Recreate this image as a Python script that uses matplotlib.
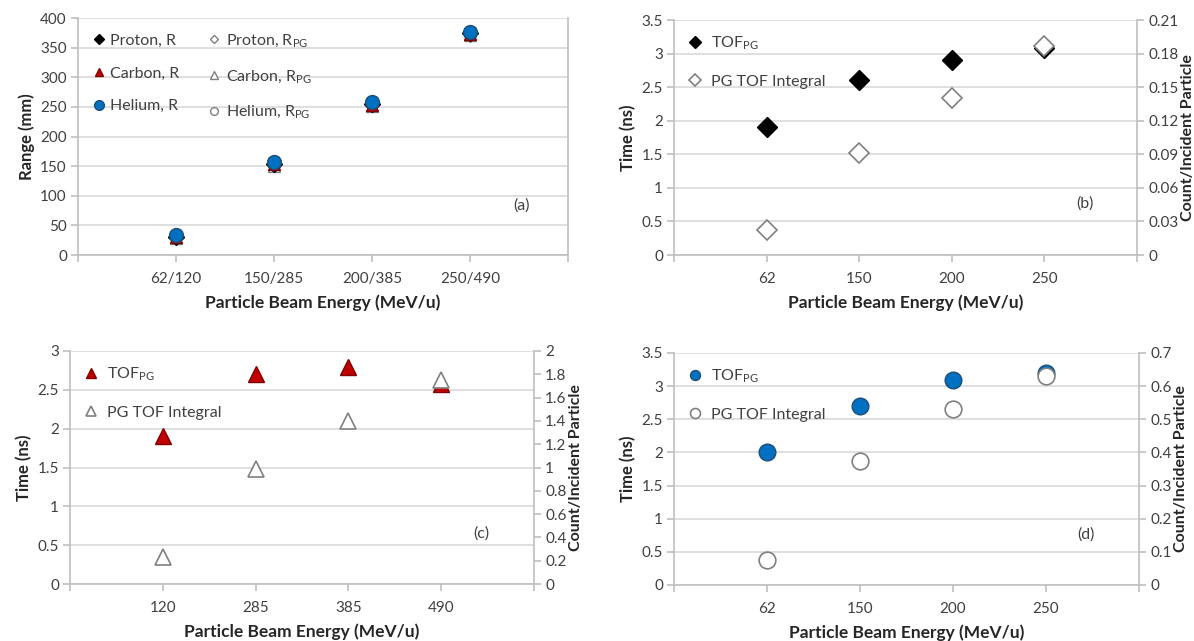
import numpy as np
from matplotlib import pyplot as plt

plt.rcParams['font.family'] = ['Lato', 'DejaVu Sans']
plt.rcParams['mathtext.fontset'] = 'custom'
plt.rcParams['mathtext.rm'] = 'Lato'

# (a) range
cats_a = ['62/120', '150/285', '200/385', '250/490']
proton_r = [31, 153, 255, 374]
proton_rpg = [28, 150, 251, 370]
carbon_r = [30, 153, 253, 373]
carbon_rpg = [29, 151, 252, 371]
helium_r = [33, 157, 258, 377]
helium_rpg = [30, 152, 254, 372]

# (b) proton
cats_b = ['62', '150', '200', '250']
tof_b = [1.9, 2.6, 2.9, 3.08]
integ_b = [0.022, 0.091, 0.140, 0.187]

# (c) carbon
cats_c = ['120', '285', '385', '490']
tof_c = [1.9, 2.7, 2.8, 2.58]
integ_c = [0.233, 0.987, 1.40, 1.747]

# (d) helium
cats_d = ['62', '150', '200', '250']
tof_d = [2.0, 2.7, 3.1, 3.2]
integ_d = [0.076, 0.374, 0.53, 0.632]

blue = '#0070C0'
red = '#C00000'
grey = '#808080'
spine_c = '#BFBFBF'
grid_c = '#D9D9D9'
txt_c = '#404040'

fig = plt.figure(figsize=(11.94, 6.41), dpi=100)


def fmt_dec(v):
    s = f'{v:.2f}'.rstrip('0').rstrip('.')
    return s


def style(ax, cats, ymax, ystep):
    x = np.arange(1, len(cats) + 1)
    ax.set_xlim(0, len(cats) + 1)
    ax.set_xticks(np.arange(0, len(cats) + 2))
    ax.set_xticklabels([''] + cats + [''])
    ax.set_ylim(0, ymax)
    yt = np.arange(0, ymax + ystep / 2, ystep)
    ax.set_yticks(yt)
    ax.set_yticklabels([fmt_dec(v) for v in yt])
    ax.yaxis.grid(True, color=grid_c, lw=1.2)
    ax.set_axisbelow(True)
    for s in ['left', 'bottom', 'right']:
        ax.spines[s].set_color(spine_c)
        ax.spines[s].set_linewidth(1.2)
    ax.spines['top'].set_visible(False)
    ax.tick_params(axis='x', colors=spine_c, length=5, width=1.2,
                   labelcolor=txt_c, labelsize=11, pad=7)
    ax.tick_params(axis='y', colors=spine_c, length=5, width=1.2,
                   labelcolor=txt_c, labelsize=11, pad=3)
    ax.set_xlabel('Particle Beam Energy (MeV/u)', fontsize=12.5,
                  fontweight='bold', color='#262626', labelpad=6)
    return x


# ---- (a)
ax = fig.add_axes([78 / 1194, 1 - 255 / 641, 490 / 1194, 237 / 641])
x = style(ax, cats_a, 400, 50)
ax.set_ylabel('Range (mm)', fontsize=12, fontweight='bold', color='#262626')
ax.plot(x, proton_rpg, 'D', ms=6, mfc='white', mec=grey, mew=1, label=r'Proton, R$_\mathregular{PG}$')
ax.plot(x, carbon_rpg, '^', ms=8, mfc='white', mec=grey, mew=1, label=r'Carbon, R$_\mathregular{PG}$')
ax.plot(x, helium_rpg, 'o', ms=8, mfc='white', mec=grey, mew=1, label=r'Helium, R$_\mathregular{PG}$')
ax.plot(x, proton_r, 'D', ms=8, color='black', label='Proton, R')
ax.plot(x, carbon_r, '^', ms=9, color=red, mec='#800000', label='Carbon, R')
ax.plot(x, helium_r, 'o', ms=10, color=blue, mec='#1F4E79', label='Helium, R')
h, l = ax.get_legend_handles_labels()
order = [3, 4, 5, 0, 1, 2]
ax.legend([h[i] for i in order], [l[i] for i in order], ncol=2, loc='upper left',
          frameon=False, fontsize=11.5, markerscale=0.7, handlelength=0.8,
          handletextpad=0.3, columnspacing=1.8, labelspacing=1.15,
          borderaxespad=0.5, labelcolor=txt_c)
ax.text(0.888, 0.19, '(a)', transform=ax.transAxes, fontsize=11.5, color=txt_c)


def tof_panel(rect, cats, tof, integ, ymax, ystep, rmax, rstep, mk, fc, ec,
              ms, tag):
    ax = fig.add_axes(rect)
    x = style(ax, cats, ymax, ystep)
    ax.set_ylabel('Time (ns)', fontsize=12, fontweight='bold', color='#262626')
    a2 = ax.twinx()
    a2.set_ylim(0, rmax)
    rt = np.arange(0, rmax + rstep / 2, rstep)
    a2.set_yticks(rt)
    a2.set_yticklabels([fmt_dec(v) for v in rt])
    for s in a2.spines.values():
        s.set_visible(False)
    a2.tick_params(axis='y', colors=spine_c, length=5, width=1.2,
                   labelcolor=txt_c, labelsize=11, pad=3)
    a2.set_ylabel('Count/Incident Particle', fontsize=11.5, fontweight='bold',
                  color='#262626', labelpad=2)
    p1, = ax.plot(x, tof, mk, ms=ms, color=fc, mec=ec, mew=1,
                  label=r'TOF$_\mathregular{PG}$')
    p2, = a2.plot(x, integ, mk, ms=ms, mfc='white', mec=grey, mew=1.2,
                  label='PG TOF Integral')
    a2.legend([p1, p2], [p1.get_label(), p2.get_label()], loc='upper left',
              frameon=False, fontsize=11.5, markerscale=0.6, handlelength=0.8,
              handletextpad=0.6, labelspacing=1.4, borderaxespad=0.5,
              labelcolor=txt_c)
    ax.text(0.868, 0.2, tag, transform=ax.transAxes, fontsize=11.5, color=txt_c)
    return ax


tof_panel([674 / 1194, 1 - 255 / 641, 463 / 1194, 235 / 641], cats_b, tof_b, integ_b,
          3.5, 0.5, 0.21, 0.03, 'D', 'black', 'black', 10, '(b)')
tof_panel([70 / 1194, 1 - 584 / 641, 464 / 1194, 233 / 641], cats_c, tof_c, integ_c,
          3.0, 0.5, 2.0, 0.2, '^', red, '#800000', 12, '(c)')
tof_panel([674 / 1194, 1 - 585 / 641, 465 / 1194, 232 / 641], cats_d, tof_d, integ_d,
          3.5, 0.5, 0.7, 0.1, 'o', blue, '#1F4E79', 12, '(d)')

fig.savefig('out.png', dpi=100)
